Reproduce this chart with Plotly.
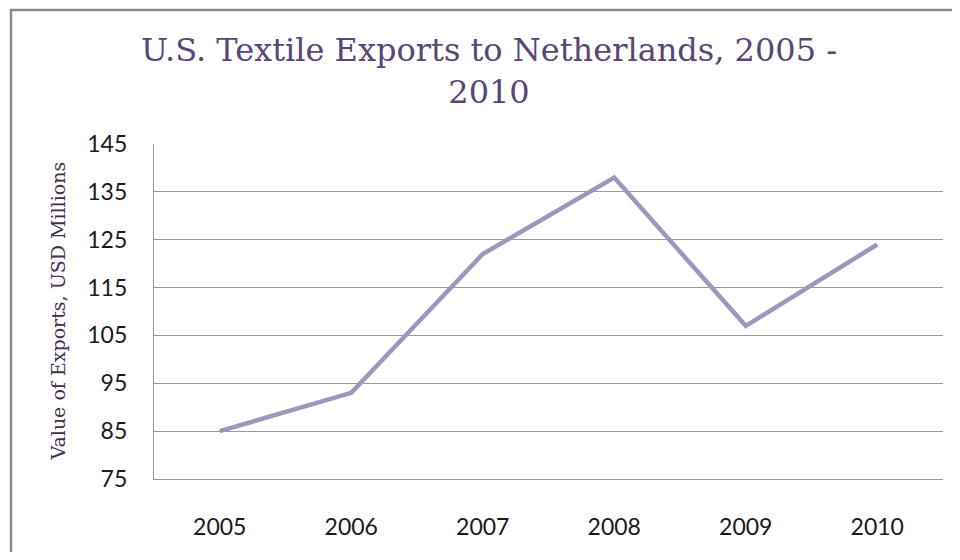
import plotly.graph_objects as go

years = ["2005", "2006", "2007", "2008", "2009", "2010"]
exports = [85, 93, 122, 138, 107, 124]
y_ticks = [75, 85, 95, 105, 115, 125, 135, 145]

OFF = 8  # page body margin in the browser
W, H = 960 - 2 * OFF, 560 - 2 * OFF
L, T = 154 - OFF, 144 - OFF
pw, ph = 789, 335
R, B = W - L - pw, H - T - ph

def px_x(p):
    return (p - OFF - L) / pw

def px_y(p):
    return 1 - (p - OFF - T) / ph

fig = go.Figure()
fig.add_trace(go.Scatter(
    x=years, y=exports, mode="lines",
    line=dict(color="#A195BD", width=4.5),
    hoverinfo="x+y", showlegend=False,
))

border = dict(color="#8A8A8A", width=2.5)

fig.update_layout(
    width=W, height=H,
    margin=dict(l=L, r=R, t=T, b=B),
    paper_bgcolor="white", plot_bgcolor="white",
    title=dict(
        text="U.S. Textile Exports to Netherlands, 2005 -<br>2010",
        font=dict(family="DejaVu Serif", size=32, color="#5A4675"),
        x=(489 - OFF) / W, xanchor="center",
        y=1 - 53 / H, yanchor="top",
    ),
    xaxis=dict(
        type="category", range=[-0.5, 5.5],
        showgrid=False, showline=True, linecolor="#9A9A9A", linewidth=1.3,
        zeroline=False, ticks="", ticklabelstandoff=27,
        tickfont=dict(family="Lato", size=23, color="#1A1A1A"),
    ),
    yaxis=dict(
        range=[75, 145], tickvals=y_ticks,
        showgrid=True, gridcolor="#9A9A9A", gridwidth=1.3,
        showline=True, linecolor="#9A9A9A", linewidth=1.3,
        zeroline=False, ticks="", ticklabelstandoff=21,
        tickfont=dict(family="Lato", size=23, color="#1A1A1A"),
    ),
    annotations=[dict(
        text="Value of Exports, USD Millions",
        x=px_x(57), y=0.5, xref="paper", yref="paper",
        xanchor="center", yanchor="middle", textangle=-90,
        showarrow=False,
        font=dict(family="DejaVu Serif", size=19, color="#3F3151"),
    )],
    shapes=[
        dict(type="line", xref="paper", yref="paper",
             x0=px_x(11), x1=px_x(11), y0=px_y(600), y1=px_y(10),
             line=border, layer="below"),
        dict(type="line", xref="paper", yref="paper",
             x0=px_x(10), x1=px_x(1000), y0=px_y(10), y1=px_y(10),
             line=border, layer="below"),
    ],
)

fig.write_html("out.html")
